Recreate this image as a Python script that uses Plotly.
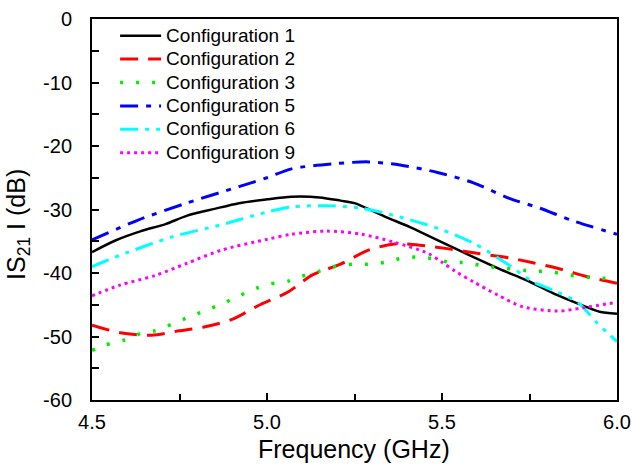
import plotly.graph_objects as go

x1 = [4.50, 4.57, 4.64, 4.71, 4.77, 4.85, 4.92, 5.00, 5.07, 5.15, 5.21, 5.25, 5.34, 5.41, 5.49, 5.59, 5.67, 5.74, 5.83, 5.91, 5.95, 6.00]
y1 = [-36.7, -34.8, -33.4, -32.3, -31.0, -29.9, -29.0, -28.4, -28.0, -28.1, -28.6, -29.0, -31.2, -32.8, -34.9, -37.5, -39.5, -41.1, -43.5, -45.3, -46.1, -46.4]

x2 = [4.50, 4.58, 4.67, 4.75, 4.82, 4.90, 4.98, 5.06, 5.13, 5.21, 5.29, 5.37, 5.45, 5.52, 5.60, 5.69, 5.76, 5.84, 5.91, 6.00]
y2 = [-48.2, -49.4, -49.8, -49.1, -48.5, -47.3, -45.0, -43.0, -40.3, -38.6, -36.4, -35.4, -35.7, -36.2, -36.9, -37.6, -38.4, -39.4, -40.5, -41.6]

x3 = [4.50, 4.54, 4.59, 4.64, 4.68, 4.73, 4.77, 4.82, 4.87, 4.92, 4.97, 5.01, 5.06, 5.10, 5.15, 5.20, 5.25, 5.29, 5.34, 5.39, 5.43, 5.48, 5.52, 5.57, 5.62, 5.67, 5.76, 5.81, 5.85, 5.90, 5.95, 6.00]
y3 = [-52.2, -51.3, -50.6, -49.5, -49.1, -48.0, -47.1, -46.0, -44.9, -43.6, -42.4, -41.7, -41.3, -40.5, -39.7, -38.9, -38.6, -38.6, -38.3, -37.6, -37.5, -37.8, -38.3, -38.4, -38.9, -39.2, -39.7, -39.8, -40.2, -40.6, -40.8, -40.8]

x5 = [4.50, 4.63, 4.77, 4.92, 5.00, 5.07, 5.19, 5.29, 5.38, 5.49, 5.59, 5.69, 5.78, 5.87, 6.00]
y5 = [-34.8, -31.7, -29.0, -26.4, -25.0, -23.6, -22.8, -22.5, -23.0, -24.2, -25.8, -28.2, -29.8, -31.7, -33.9]

x6 = [4.50, 4.58, 4.73, 4.87, 5.00, 5.07, 5.17, 5.27, 5.36, 5.49, 5.59, 5.69, 5.76, 5.83, 5.89, 5.94, 5.97, 6.00]
y6 = [-39.0, -37.2, -34.3, -32.4, -30.4, -29.6, -29.4, -29.8, -30.9, -33.0, -35.3, -38.7, -41.4, -43.0, -44.7, -47.7, -49.3, -50.8]

x9 = [4.50, 4.58, 4.68, 4.77, 4.87, 5.00, 5.07, 5.17, 5.27, 5.36, 5.46, 5.50, 5.54, 5.59, 5.66, 5.73, 5.83, 5.90, 6.00]
y9 = [-43.6, -41.9, -40.4, -38.5, -36.4, -34.7, -33.9, -33.4, -33.9, -35.1, -36.9, -38.3, -39.8, -41.4, -43.5, -45.3, -46.0, -45.5, -44.6]

names = ["Configuration 1", "Configuration 2", "Configuration 3",
         "Configuration 5", "Configuration 6", "Configuration 9"]

y_tick_vals = [0, -10, -20, -30, -40, -50, -60]
y_tick_text = ["0", "-10", "-20", "-30", "-40", "-50", "-60"]
x_tick_vals = [4.5, 5.0, 5.5, 6.0]
x_tick_text = ["4.5", "5.0", "5.5", "6.0"]

series = [
    (x1, y1, names[0], "#000000", "solid", 2.5),
    (x2, y2, names[1], "#ff0000", "18px,10px", 3),
    (x3, y3, names[2], "#00ee00", "3px,13px", 3.5),
    (x5, y5, names[3], "#0000ff", "18px,8px,5px,8px", 3),
    (x6, y6, names[4], "#00ffff", "18px,7px,4px,7px,4px,7px", 3),
    (x9, y9, names[5], "#ff00ff", "3px,4px", 3),
]

fig = go.Figure()
for xs, ys, nm, col, dash, w in series:
    fig.add_trace(go.Scatter(
        x=xs, y=ys, name="<span style='font-size:19px'>" + nm + "</span>", mode="lines",
        line=dict(color=col, dash=dash, width=w, shape="spline", smoothing=0.8),
    ))

font_family = "Liberation Sans, Arial, sans-serif"

fig.update_layout(
    width=632, height=466,
    margin=dict(l=92, r=15, t=19, b=66),
    paper_bgcolor="white", plot_bgcolor="white",
    font=dict(family=font_family, color="black", size=20),
    showlegend=True,
    legend=dict(
        x=0.044, y=1.0, xanchor="left", yanchor="top",
        bgcolor="rgba(0,0,0,0)", borderwidth=0,
        font=dict(size=15.7, family=font_family),
        itemwidth=41,
        tracegroupgap=0,
    ),
    xaxis=dict(
        range=[4.5, 6.0], tickmode="array", tickvals=x_tick_vals, ticktext=x_tick_text,
        automargin=False,
        showline=True, linecolor="black", linewidth=2, mirror=True,
        ticks="inside", ticklen=7, tickwidth=2, tickcolor="black",
        minor=dict(dtick=0.25, tick0=4.5, ticks="inside", ticklen=6, tickwidth=2, tickcolor="black"),
        showgrid=False, zeroline=False,
        ticklabelstandoff=3,
    ),
    yaxis=dict(
        range=[-60, 0], tickmode="array", tickvals=y_tick_vals, ticktext=y_tick_text,
        automargin=False,
        showline=True, linecolor="black", linewidth=2, mirror=True,
        ticks="inside", ticklen=7, tickwidth=2, tickcolor="black",
        minor=dict(dtick=5, tick0=0, ticks="inside", ticklen=7, tickwidth=2, tickcolor="black"),
        showgrid=False, zeroline=False,
        ticklabelstandoff=14,
    ),
    annotations=[
        dict(
            text="IS<sub>21</sub> I (dB)", textangle=-90,
            xref="paper", yref="paper", x=-0.141, y=0.462,
            xanchor="center", yanchor="middle", showarrow=False,
            font=dict(size=25, family=font_family, color="black"),
        ),
        dict(
            text="Frequency (GHz)",
            xref="paper", yref="paper", x=0.499, y=-0.128,
            xanchor="center", yanchor="middle", showarrow=False,
            font=dict(size=25, family=font_family, color="black"),
        ),
    ],
)

fig.write_html("out.html")
